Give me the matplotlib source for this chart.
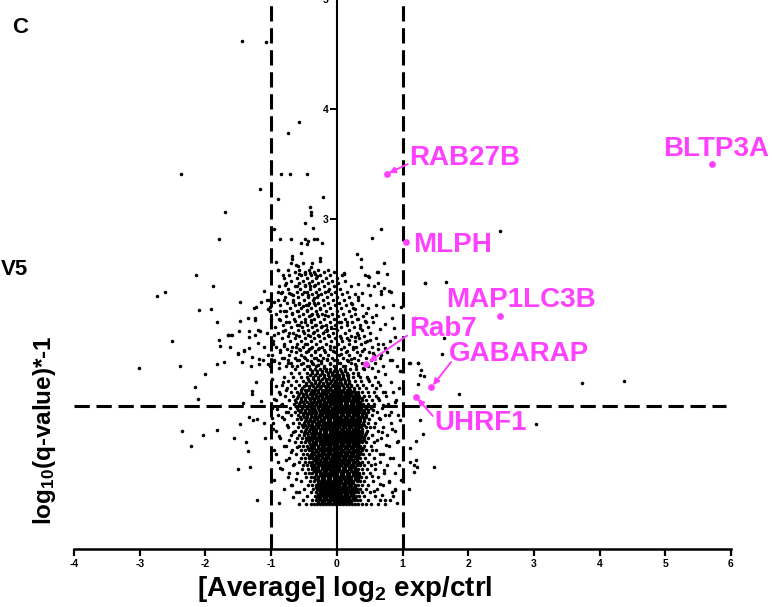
import numpy as np
import matplotlib
matplotlib.use("Agg")
import matplotlib.pyplot as plt

plt.rcParams['font.family'] = ['Liberation Sans', 'DejaVu Sans']
plt.rcParams['font.weight'] = 'bold'
plt.rcParams['axes.unicode_minus'] = False
plt.rcParams['mathtext.fontset'] = 'custom'
plt.rcParams['mathtext.rm'] = 'Liberation Sans:bold'
plt.rcParams['mathtext.it'] = 'Liberation Sans:bold'
plt.rcParams['mathtext.bf'] = 'Liberation Sans:bold'

PINK = '#ff40ff'

# --- seuils
FC_CUT = 1.0
Q_CUT = 1.3
Q_LINE_END = 5.92

# --- points isoles
sparse_x = [
    -1.45, -1.08, -0.57, -0.74, -2.37, -0.85, -0.71, -0.45, -1.17, -0.21, -0.90,
    -0.41, -0.40, -0.40, -0.49, -0.36, -0.96, -0.87, -0.69, -0.48, -0.44, -0.35, -0.30,
    -0.23, -0.55, -0.46, -0.55, -0.68, -0.68, -0.69, -0.62, -0.59, -0.52, -0.38, -0.39,
    -0.26, -0.25, -0.92, -0.89,
    0.67, 0.53, 0.31, 0.37, 0.37, 0.72, 0.61, 0.11, 0.49, 0.63, 0.68, 0.80,
    2.48, 1.34, 1.66, 3.73, 4.37, 1.86, 3.03, 1.63, 1.60, 1.11, 1.23, 1.27, 1.24, 1.19,
    1.27, 1.31, 1.21, 1.11,
    1.48, 1.22, 1.18, 1.11, 1.10, 0.89, 0.81, 0.74, 0.91, 0.98, 0.95, 1.20, 1.17,
    1.10, 1.24, 1.28, 1.33,
    -1.70, -1.79, -2.14, -1.89, -2.73, -2.61, -2.10, -1.92, -1.47, -1.83, -2.51, -1.79,
    -1.78, -1.65, -1.59, -3.01, -2.39, -2.01, -1.83, -1.72, -2.16, -2.12, -1.50, -1.42,
    -1.49, -1.33, -1.25, -1.17, -1.25, -1.26, -1.11, -1.03, -1.02, -1.29, -1.19, -1.12,
    -1.23, -1.29,
    -2.35, -2.04, -1.83, -2.22, -1.56, -1.38, -1.35, -1.50, -1.32, -1.21, -1.47, -1.34,
    -1.27, -1.22, -1.10, -0.88, -1.11, -1.43, -1.29, -1.15,
]
sparse_y = [
    4.62, 4.61, 3.88, 3.78, 3.41, 3.41, 3.41, 3.41, 3.27, 3.20, 3.18,
    3.11, 3.06, 3.04, 2.96, 2.92, 2.91, 2.82, 2.82, 2.82, 2.80, 2.82, 2.82,
    2.78, 2.78, 2.77, 2.69, 2.66, 2.64, 2.60, 2.58, 2.57, 2.60, 2.60, 2.56,
    2.65, 2.62, 2.61, 2.54,
    2.91, 2.83, 2.68, 2.64, 2.56, 2.60, 2.52, 2.51, 2.47, 2.42, 2.35, 2.35,
    2.89, 2.42, 2.43, 1.51, 1.53, 1.41, 1.14, 1.92, 1.77, 1.69, 1.69, 1.58, 1.50, 2.10,
    1.17, 1.05, 0.98, 0.92,
    0.75, 0.75, 0.70, 0.79, 0.55, 0.54, 0.45, 0.45, 0.42, 0.63, 0.76, 0.81, 0.76,
    1.69, 1.69, 1.63, 1.57,
    3.06, 2.82, 2.49, 2.39, 2.30, 2.34, 2.17, 2.18, 2.25, 2.06, 1.89, 1.90,
    1.85, 1.95, 1.95, 1.65, 1.66, 1.59, 1.68, 1.70, 1.47, 1.36, 1.77, 1.80,
    1.98, 1.93, 1.95, 1.98, 2.10, 2.19, 2.35, 2.26, 2.20, 1.75, 1.68, 1.72,
    1.52, 1.44,
    1.07, 1.04, 1.08, 0.94, 1.01, 0.97, 0.89, 0.73, 0.75, 0.45, 1.14, 1.20,
    1.17, 1.18, 1.01, 0.42, 1.15, 1.33, 1.41, 1.35,
]

# --- bords du coeur (entre les pointilles et le noyau dense)
fringe_x = [
    -0.98, -0.93, -0.87, -0.95, -0.82, -0.78, -0.91, -0.84, -0.76, -0.97, -0.88, -0.72,
    -0.81, -0.93, -0.69, -0.77, -0.86, -0.65, -0.73, -0.96, -0.62, -0.70, -0.80, -0.58,
    -0.66, -0.99, -0.85, -0.74, -0.67, -0.61,
    0.58, 0.66, 0.74, 0.83, 0.95, 0.62, 0.71, 0.88, 0.55, 0.64, 0.79, 0.96, 0.57, 0.69,
    0.84, 0.61, 0.75, 0.93, 0.53, 0.66, 0.81, 0.58, 0.72, 0.89, 0.54, 0.65, 0.80, 0.57,
    0.69, 0.84,
]
fringe_y = [
    1.55, 1.48, 1.41, 1.36, 1.52, 1.45, 1.27, 1.20, 1.13, 1.09, 1.03, 0.99,
    0.94, 0.86, 0.88, 0.81, 0.74, 0.77, 0.69, 0.63, 0.64, 0.58, 0.55, 0.52,
    0.47, 1.19, 1.31, 1.25, 1.06, 0.93,
    1.56, 1.49, 1.43, 1.52, 1.46, 1.37, 1.31, 1.34, 1.26, 1.19, 1.22, 1.17, 1.11, 1.06,
    1.09, 0.99, 0.95, 0.98, 0.90, 0.86, 0.83, 0.77, 0.72, 0.69, 0.66, 0.59, 0.61, 0.53,
    0.49, 0.52,
]

# --- nuage intermediaire lu point par point (y 1.5 - 2.55)
mid_x = [
    -0.89, -0.82, -0.58, -0.48, -0.41, -0.33, -0.30,
    -0.79, -0.60, -0.48, -0.41, -0.33, -0.14,
    -0.90, -0.85, -0.72, -0.67, -0.50, -0.44, -0.35, -0.29,
    -1.15, -1.06, -0.95, -0.81, -0.67, -0.58, -0.51, -0.44, -0.35, -0.25,
    -1.23, -1.05, -1.01, -0.87, -0.77, -0.68, -0.59, -0.46, -0.39, -0.30, -0.18,
    -1.48, -1.35, -1.25, -1.00, -0.86, -0.77, -0.64, -0.57, -0.48, -0.39, -0.33, -0.23,
    -1.66, -1.61, -1.33, -1.20, -1.06, -0.95, -0.82, -0.72, -0.62, -0.52, -0.44, -0.35,
    -0.29, -0.14,
    -1.63, -1.51, -1.42, -1.33, -1.20, -1.11, -1.05, -0.97, -0.87, -0.80, -0.70, -0.62,
    -0.56, -0.49, -0.44, -0.39, -0.33, -0.27, -0.19, -0.11, -0.06,
    -1.45, -1.30, -1.18, -1.05, -0.95, -0.88, -0.80, -0.74, -0.68, -0.60, -0.55, -0.50,
    -0.45, -0.40, -0.36, -0.32, -0.28, -0.24, -0.20, -0.15, -0.10, -0.05, 0.02, 0.10, 0.22,
    0.11, 0.43, 0.48, 0.62, 0.77, 0.33, 0.48, 0.57, 0.72, 0.83, 0.67, 0.50, 0.38, 0.33,
    0.23, 0.38, 0.59, 0.70, 0.86, 0.97, 1.34,
    0.27, 0.45, 0.53, 0.60, 0.43, 0.55, 0.32, 0.16, 0.73, 0.87, 0.65, 0.07, 0.84,
    0.06, 0.18, 0.27, 0.35, 0.33, 0.43, 0.50, 0.63, 0.73, 0.81, 0.88, 0.93, 0.25, 0.15,
    0.07, 0.38, 0.55, 0.68, 0.81, 0.91, 0.96, 0.17, 0.27, 0.40, 0.53, 0.63, 0.73, 0.32,
    0.48, 0.63, 0.17, 0.07,
]
mid_y = [
    2.54, 2.49, 2.50, 2.50, 2.51, 2.50, 2.48,
    2.40, 2.39, 2.40, 2.39, 2.40, 2.35,
    2.34, 2.33, 2.33, 2.31, 2.34, 2.31, 2.28, 2.31,
    2.25, 2.26, 2.25, 2.26, 2.25, 2.23, 2.21, 2.22, 2.24, 2.18,
    2.20, 2.18, 2.16, 2.16, 2.16, 2.15, 2.16, 2.17, 2.13, 2.14, 2.13,
    2.07, 2.10, 2.08, 2.09, 2.08, 2.06, 2.07, 2.04, 2.06, 2.08, 2.04, 2.03,
    1.95, 1.95, 1.98, 1.99, 1.96, 1.95, 1.98, 1.96, 1.95, 1.98, 1.95, 1.97,
    1.95, 1.95,
    1.84, 1.78, 1.81, 1.83, 1.87, 1.84, 1.76, 1.86, 1.81, 1.85, 1.80, 1.84,
    1.81, 1.86, 1.80, 1.83, 1.80, 1.83, 1.81, 1.85, 1.80,
    1.70, 1.66, 1.73, 1.68, 1.71, 1.65, 1.74, 1.69, 1.66, 1.72, 1.68, 1.75,
    1.66, 1.71, 1.68, 1.74, 1.67, 1.71, 1.65, 1.73, 1.68, 1.72, 1.69, 1.66, 1.73,
    2.50, 2.49, 2.48, 2.52, 2.50, 2.41, 2.40, 2.39, 2.37, 2.34, 2.32, 2.31, 2.33, 2.29,
    2.23, 2.22, 2.22, 2.20, 2.22, 2.20, 2.42,
    2.18, 2.15, 2.11, 2.13, 2.07, 2.06, 2.09, 2.06, 2.05, 2.01, 2.00, 2.06, 2.10,
    1.92, 1.90, 1.93, 2.01, 1.95, 1.88, 1.90, 1.86, 1.83, 1.89, 1.93, 1.83, 1.84, 1.80,
    1.77, 1.80, 1.78, 1.76, 1.72, 1.66, 1.62, 1.71, 1.68, 1.65, 1.65, 1.62, 1.59, 1.58,
    1.55, 1.52, 1.58, 1.55,
]

# --- nuage intermediaire, rangees fines (y 1.665 - 2.54)
band_y = [1.665, 1.69, 1.715, 1.74, 1.765, 1.79, 1.815, 1.84, 1.865, 1.89, 1.915, 1.94,
          1.965, 1.99, 2.015, 2.04, 2.065, 2.09, 2.115, 2.14, 2.165, 2.19, 2.215, 2.24,
          2.265, 2.29, 2.315, 2.34, 2.365, 2.39, 2.415, 2.44, 2.465, 2.49, 2.515, 2.54]
band_x = [
    [-1.02, -0.78, -0.61, -0.43, -0.31, -0.19, -0.04, 0.12, 0.29, 0.47, 0.71],
    [-0.88, -0.69, -0.52, -0.37, -0.24, -0.11, 0.05, 0.21, 0.38, 0.58],
    [-0.95, -0.74, -0.57, -0.46, -0.28, -0.15, 0.01, 0.16, 0.33, 0.52, 0.84],
    [-0.83, -0.64, -0.49, -0.34, -0.21, -0.07, 0.09, 0.26, 0.44, 0.66],
    [-0.99, -0.72, -0.55, -0.40, -0.26, -0.13, 0.03, 0.19, 0.36, 0.57],
    [-0.86, -0.62, -0.47, -0.33, -0.18, -0.02, 0.14, 0.31, 0.49, 0.77],
    [-0.76, -0.58, -0.42, -0.29, -0.10, 0.07, 0.24, 0.41, 0.62],
    [-0.92, -0.68, -0.51, -0.37, -0.22, -0.05, 0.11, 0.29, 0.53],
    [-0.81, -0.60, -0.45, -0.31, -0.16, 0.02, 0.19, 0.37, 0.70],
    [-0.97, -0.71, -0.54, -0.39, -0.25, -0.09, 0.08, 0.27, 0.46],
    [-0.84, -0.63, -0.48, -0.34, -0.19, -0.03, 0.15, 0.34, 0.59],
    [-0.75, -0.57, -0.41, -0.27, -0.12, 0.05, 0.22, 0.42],
    [-0.90, -0.66, -0.50, -0.36, -0.21, -0.06, 0.12, 0.30, 0.51],
    [-0.79, -0.59, -0.44, -0.30, -0.15, 0.01, 0.19, 0.39],
    [-0.94, -0.69, -0.53, -0.38, -0.24, -0.09, 0.07, 0.26, 0.48],
    [-0.82, -0.61, -0.46, -0.32, -0.17, -0.02, 0.16, 0.35],
    [-0.73, -0.55, -0.40, -0.26, -0.11, 0.04, 0.23, 0.44],
    [-0.88, -0.65, -0.49, -0.35, -0.20, -0.05, 0.13, 0.31],
    [-0.77, -0.58, -0.43, -0.29, -0.14, 0.02, 0.21, 0.40],
    [-0.93, -0.68, -0.52, -0.37, -0.23, -0.08, 0.10, 0.28],
    [-0.80, -0.60, -0.45, -0.31, -0.16, 0.00, 0.18],
    [-0.71, -0.54, -0.39, -0.25, -0.10, 0.06, 0.25, 0.47],
    [-0.86, -0.63, -0.47, -0.33, -0.19, -0.03, 0.14],
    [-0.76, -0.57, -0.42, -0.28, -0.13, 0.03, 0.22],
    [-0.90, -0.66, -0.50, -0.36, -0.21, -0.06, 0.11, 0.33],
    [-0.79, -0.59, -0.44, -0.30, -0.15, 0.01, 0.18],
    [-0.70, -0.53, -0.38, -0.24, -0.09, 0.08, 0.27],
    [-0.84, -0.61, -0.46, -0.32, -0.18, -0.02, 0.15],
    [-0.74, -0.56, -0.41, -0.27, -0.12, 0.05],
    [-0.88, -0.64, -0.49, -0.35, -0.20, -0.04, 0.21],
    [-0.77, -0.58, -0.43, -0.29, -0.14, 0.02],
    [-0.69, -0.52, -0.37, -0.23, -0.08, 0.12],
    [-0.81, -0.60, -0.45, -0.31, -0.16, 0.00],
    [-0.72, -0.55, -0.40, -0.26, -0.11, 0.08],
    [-0.63, -0.48, -0.34, -0.19, -0.05],
    [-0.75, -0.57, -0.42, -0.28, -0.13],
]

# --- coeur dense : une rangee par niveau de -log10(q)
core_y = [0.41, 0.445, 0.48, 0.515, 0.55, 0.585, 0.62, 0.655, 0.69, 0.725, 0.76, 0.795,
          0.83, 0.865, 0.90, 0.935, 0.97, 1.005, 1.04, 1.075, 1.11, 1.145, 1.18, 1.215,
          1.25, 1.285, 1.32, 1.355, 1.39, 1.425, 1.46, 1.495, 1.53, 1.565, 1.60, 1.635]
core_x = [
    [-0.58, -0.47, -0.40, -0.35, -0.30, -0.26, -0.21, -0.17, -0.12, -0.08, -0.03, 0.01, 0.05, 0.10, 0.14, 0.19, 0.23, 0.28, 0.33, 0.38, 0.44, 0.52, 0.63, 0.74],
    [-0.52, -0.37, -0.32, -0.27, -0.22, -0.18, -0.13, -0.09, -0.04, 0.00, 0.04, 0.08, 0.13, 0.17, 0.22, 0.26, 0.31, 0.36, 0.47, 0.66],
    [-0.45, -0.33, -0.28, -0.24, -0.19, -0.15, -0.10, -0.06, -0.02, 0.03, 0.07, 0.11, 0.16, 0.20, 0.25, 0.29, 0.34, 0.41, 0.58, 0.86],
    [-0.62, -0.40, -0.31, -0.26, -0.21, -0.17, -0.12, -0.08, -0.03, 0.01, 0.05, 0.10, 0.14, 0.18, 0.23, 0.27, 0.32, 0.39, 0.50],
    [-0.50, -0.36, -0.30, -0.25, -0.20, -0.15, -0.11, -0.06, -0.02, 0.02, 0.07, 0.11, 0.16, 0.21, 0.25, 0.30, 0.36, 0.45, 0.61, 0.89],
    [-0.68, -0.44, -0.37, -0.32, -0.27, -0.22, -0.18, -0.13, -0.09, -0.04, 0.00, 0.04, 0.09, 0.13, 0.18, 0.22, 0.27, 0.32, 0.38, 0.48, 0.70],
    [-0.55, -0.41, -0.35, -0.29, -0.24, -0.20, -0.15, -0.11, -0.06, -0.02, 0.03, 0.07, 0.12, 0.16, 0.20, 0.25, 0.30, 0.35, 0.42, 0.55, 0.80],
    [-0.74, -0.47, -0.40, -0.34, -0.28, -0.23, -0.19, -0.14, -0.10, -0.05, -0.01, 0.04, 0.08, 0.13, 0.17, 0.22, 0.27, 0.32, 0.37, 0.45, 0.63],
    [-0.60, -0.49, -0.42, -0.37, -0.31, -0.26, -0.21, -0.17, -0.12, -0.08, -0.03, 0.01, 0.06, 0.10, 0.15, 0.19, 0.24, 0.29, 0.34, 0.40, 0.51, 0.72],
    [-0.83, -0.53, -0.44, -0.38, -0.33, -0.28, -0.23, -0.18, -0.14, -0.09, -0.05, 0.00, 0.04, 0.09, 0.13, 0.18, 0.22, 0.27, 0.32, 0.38, 0.46, 0.58],
    [-0.66, -0.51, -0.45, -0.40, -0.35, -0.29, -0.24, -0.20, -0.15, -0.11, -0.06, -0.02, 0.03, 0.07, 0.12, 0.16, 0.21, 0.25, 0.30, 0.35, 0.41, 0.52, 0.77],
    [-0.90, -0.58, -0.48, -0.42, -0.37, -0.31, -0.26, -0.21, -0.17, -0.12, -0.08, -0.03, 0.01, 0.06, 0.10, 0.15, 0.19, 0.24, 0.28, 0.33, 0.39, 0.47, 0.66],
    [-0.72, -0.55, -0.49, -0.43, -0.38, -0.33, -0.28, -0.23, -0.18, -0.14, -0.09, -0.05, 0.00, 0.04, 0.09, 0.13, 0.18, 0.22, 0.27, 0.31, 0.36, 0.43, 0.56, 0.85],
    [-0.62, -0.51, -0.45, -0.40, -0.35, -0.29, -0.24, -0.20, -0.15, -0.11, -0.06, -0.02, 0.03, 0.07, 0.12, 0.16, 0.21, 0.25, 0.30, 0.35, 0.40, 0.49, 0.71],
    [-0.95, -0.68, -0.55, -0.48, -0.42, -0.37, -0.31, -0.26, -0.21, -0.17, -0.12, -0.08, -0.03, 0.01, 0.06, 0.10, 0.15, 0.19, 0.24, 0.28, 0.33, 0.38, 0.44, 0.60],
    [-0.78, -0.57, -0.51, -0.45, -0.39, -0.34, -0.28, -0.23, -0.19, -0.14, -0.10, -0.05, -0.01, 0.04, 0.08, 0.13, 0.17, 0.22, 0.26, 0.31, 0.36, 0.42, 0.52, 0.79],
    [-0.64, -0.54, -0.48, -0.42, -0.36, -0.31, -0.26, -0.21, -0.16, -0.12, -0.07, -0.03, 0.02, 0.06, 0.11, 0.15, 0.20, 0.24, 0.29, 0.34, 0.39, 0.45, 0.57, 0.92],
    [-0.86, -0.60, -0.53, -0.47, -0.41, -0.35, -0.30, -0.25, -0.20, -0.15, -0.11, -0.06, -0.02, 0.03, 0.07, 0.12, 0.16, 0.21, 0.25, 0.30, 0.35, 0.41, 0.48, 0.67],
    [-0.70, -0.57, -0.50, -0.44, -0.38, -0.33, -0.27, -0.22, -0.18, -0.13, -0.09, -0.04, 0.00, 0.05, 0.09, 0.14, 0.18, 0.23, 0.27, 0.32, 0.37, 0.43, 0.54, 0.76],
    [-0.92, -0.63, -0.55, -0.48, -0.42, -0.36, -0.31, -0.25, -0.20, -0.16, -0.11, -0.07, -0.02, 0.02, 0.07, 0.11, 0.16, 0.20, 0.25, 0.29, 0.34, 0.39, 0.46, 0.62, 0.88],
    [-0.75, -0.59, -0.52, -0.46, -0.40, -0.34, -0.29, -0.23, -0.18, -0.14, -0.09, -0.05, 0.00, 0.04, 0.09, 0.13, 0.18, 0.22, 0.27, 0.32, 0.37, 0.44, 0.51, 0.71],
    [-0.97, -0.66, -0.57, -0.50, -0.44, -0.38, -0.32, -0.27, -0.21, -0.16, -0.12, -0.07, -0.03, 0.02, 0.06, 0.11, 0.15, 0.20, 0.24, 0.29, 0.34, 0.40, 0.47, 0.58, 0.83],
    [-0.81, -0.61, -0.54, -0.47, -0.41, -0.35, -0.30, -0.24, -0.19, -0.14, -0.10, -0.05, -0.01, 0.04, 0.08, 0.13, 0.17, 0.22, 0.26, 0.31, 0.36, 0.42, 0.49, 0.66],
    [-0.89, -0.69, -0.59, -0.52, -0.45, -0.39, -0.33, -0.27, -0.22, -0.17, -0.12, -0.08, -0.03, 0.01, 0.06, 0.10, 0.15, 0.19, 0.24, 0.28, 0.33, 0.38, 0.45, 0.54, 0.74, 0.93],
    [-0.77, -0.63, -0.56, -0.49, -0.42, -0.36, -0.31, -0.25, -0.20, -0.15, -0.10, -0.06, -0.01, 0.03, 0.08, 0.12, 0.17, 0.21, 0.26, 0.30, 0.35, 0.41, 0.48, 0.61, 0.82],
    [-0.99, -0.71, -0.61, -0.53, -0.46, -0.40, -0.34, -0.28, -0.23, -0.18, -0.13, -0.08, -0.04, 0.01, 0.05, 0.10, 0.14, 0.19, 0.23, 0.28, 0.32, 0.37, 0.44, 0.52, 0.69],
    [-0.84, -0.65, -0.57, -0.50, -0.43, -0.37, -0.31, -0.26, -0.21, -0.16, -0.11, -0.06, -0.02, 0.03, 0.07, 0.12, 0.16, 0.21, 0.25, 0.30, 0.35, 0.40, 0.47, 0.57, 0.78],
    [-0.93, -0.73, -0.63, -0.55, -0.48, -0.41, -0.35, -0.29, -0.24, -0.19, -0.14, -0.09, -0.04, 0.00, 0.05, 0.09, 0.14, 0.18, 0.23, 0.27, 0.32, 0.38, 0.45, 0.53, 0.64, 0.90],
    [-0.79, -0.67, -0.59, -0.51, -0.45, -0.38, -0.32, -0.27, -0.22, -0.17, -0.12, -0.07, -0.03, 0.02, 0.06, 0.11, 0.15, 0.20, 0.25, 0.29, 0.34, 0.41, 0.49, 0.60, 0.75],
    [-0.88, -0.70, -0.61, -0.54, -0.47, -0.40, -0.34, -0.28, -0.23, -0.18, -0.13, -0.08, -0.04, 0.01, 0.05, 0.10, 0.14, 0.19, 0.23, 0.28, 0.33, 0.39, 0.47, 0.56, 0.70, 0.85],
    [-0.76, -0.64, -0.53, -0.42, -0.33, -0.25, -0.17, -0.10, -0.03, 0.04, 0.11, 0.18, 0.26, 0.34, 0.45, 0.60],
    [-0.83, -0.69, -0.58, -0.47, -0.38, -0.29, -0.21, -0.14, -0.06, 0.01, 0.08, 0.15, 0.22, 0.31, 0.40, 0.53],
    [-0.74, -0.62, -0.51, -0.42, -0.33, -0.25, -0.17, -0.09, -0.02, 0.05, 0.12, 0.19, 0.28, 0.37, 0.49],
    [-0.80, -0.66, -0.55, -0.45, -0.36, -0.28, -0.20, -0.12, -0.05, 0.03, 0.10, 0.17, 0.25, 0.35, 0.46],
    [-0.70, -0.57, -0.46, -0.38, -0.30, -0.22, -0.14, -0.07, 0.00, 0.08, 0.15, 0.24, 0.33],
    [-0.63, -0.50, -0.41, -0.33, -0.25, -0.17, -0.10, -0.03, 0.05, 0.12, 0.20, 0.29, 0.41],
]

# --- coeur dense, rangees intercalees (centre le plus noir)
core2_y = [0.4275, 0.4625, 0.4975, 0.5325, 0.5675, 0.6025, 0.6375, 0.6725, 0.7075, 0.7425,
           0.7775, 0.8125, 0.8475, 0.8825, 0.9175, 0.9525, 0.9875, 1.0225, 1.0575, 1.0925,
           1.1275, 1.1625, 1.1975, 1.2325, 1.2675, 1.3025, 1.3375, 1.3725, 1.4075, 1.4425,
           1.4775, 1.5125, 1.5475, 1.5825, 1.6175]
core2_x = [
    [-0.28, -0.23, -0.19, -0.14, -0.10, -0.05, -0.01, 0.03, 0.08, 0.12, 0.17, 0.21],
    [-0.30, -0.25, -0.20, -0.16, -0.11, -0.07, -0.02, 0.02, 0.06, 0.11, 0.15, 0.19, 0.24, 0.28],
    [-0.29, -0.24, -0.20, -0.15, -0.11, -0.06, -0.02, 0.03, 0.07, 0.12, 0.16, 0.21, 0.25],
    [-0.27, -0.22, -0.18, -0.13, -0.09, -0.04, 0.00, 0.04, 0.09, 0.13, 0.18, 0.22, 0.27],
    [-0.32, -0.27, -0.23, -0.18, -0.13, -0.09, -0.04, 0.00, 0.05, 0.09, 0.14, 0.18, 0.23, 0.28],
    [-0.29, -0.24, -0.20, -0.15, -0.11, -0.06, -0.02, 0.02, 0.07, 0.11, 0.16, 0.20, 0.25],
    [-0.33, -0.28, -0.23, -0.19, -0.14, -0.10, -0.05, -0.01, 0.04, 0.08, 0.13, 0.17, 0.22, 0.27, 0.32],
    [-0.31, -0.26, -0.21, -0.17, -0.12, -0.08, -0.03, 0.01, 0.06, 0.10, 0.15, 0.19, 0.24, 0.29, 0.34],
    [-0.35, -0.30, -0.25, -0.20, -0.16, -0.11, -0.07, -0.02, 0.02, 0.07, 0.11, 0.16, 0.21, 0.26, 0.31],
    [-0.38, -0.33, -0.28, -0.23, -0.18, -0.14, -0.09, -0.05, 0.00, 0.04, 0.09, 0.13, 0.18, 0.23, 0.28],
    [-0.37, -0.32, -0.27, -0.22, -0.17, -0.13, -0.08, -0.04, 0.01, 0.05, 0.10, 0.14, 0.19, 0.24, 0.29, 0.35],
    [-0.35, -0.30, -0.25, -0.20, -0.16, -0.11, -0.07, -0.02, 0.02, 0.07, 0.11, 0.16, 0.20, 0.25, 0.30],
    [-0.42, -0.37, -0.32, -0.27, -0.22, -0.17, -0.13, -0.08, -0.04, 0.01, 0.05, 0.10, 0.14, 0.19, 0.23, 0.28, 0.33],
    [-0.38, -0.33, -0.28, -0.23, -0.19, -0.14, -0.10, -0.05, -0.01, 0.04, 0.08, 0.13, 0.17, 0.22, 0.26, 0.31, 0.36],
    [-0.44, -0.39, -0.34, -0.29, -0.24, -0.20, -0.15, -0.11, -0.06, -0.02, 0.03, 0.07, 0.12, 0.16, 0.21, 0.25, 0.30, 0.35, 0.40],
    [-0.41, -0.36, -0.31, -0.26, -0.21, -0.17, -0.12, -0.08, -0.03, 0.01, 0.06, 0.10, 0.15, 0.19, 0.24, 0.28, 0.33],
    [-0.47, -0.42, -0.37, -0.32, -0.27, -0.22, -0.18, -0.13, -0.09, -0.04, 0.00, 0.05, 0.09, 0.14, 0.18, 0.23, 0.27, 0.32, 0.37, 0.42],
    [-0.44, -0.39, -0.34, -0.29, -0.24, -0.19, -0.15, -0.10, -0.06, -0.01, 0.03, 0.08, 0.12, 0.17, 0.21, 0.26, 0.30, 0.35, 0.40],
    [-0.50, -0.45, -0.40, -0.35, -0.30, -0.25, -0.20, -0.16, -0.11, -0.07, -0.02, 0.02, 0.07, 0.11, 0.16, 0.20, 0.25, 0.29, 0.34, 0.39, 0.44],
    [-0.47, -0.41, -0.36, -0.31, -0.26, -0.21, -0.17, -0.12, -0.08, -0.03, 0.01, 0.06, 0.10, 0.15, 0.19, 0.24, 0.28, 0.33, 0.38],
    [-0.53, -0.48, -0.43, -0.37, -0.32, -0.27, -0.22, -0.18, -0.13, -0.09, -0.04, 0.00, 0.05, 0.09, 0.14, 0.18, 0.23, 0.27, 0.32, 0.37, 0.42],
    [-0.49, -0.44, -0.39, -0.34, -0.29, -0.24, -0.19, -0.14, -0.10, -0.05, -0.01, 0.04, 0.08, 0.13, 0.17, 0.22, 0.26, 0.31, 0.36, 0.41],
    [-0.56, -0.50, -0.45, -0.40, -0.35, -0.30, -0.25, -0.20, -0.15, -0.11, -0.06, -0.02, 0.03, 0.07, 0.12, 0.16, 0.21, 0.25, 0.30, 0.35, 0.40, 0.45],
    [-0.52, -0.47, -0.42, -0.37, -0.31, -0.26, -0.21, -0.17, -0.12, -0.08, -0.03, 0.01, 0.06, 0.10, 0.15, 0.19, 0.24, 0.28, 0.33, 0.38, 0.43],
    [-0.59, -0.54, -0.48, -0.43, -0.38, -0.33, -0.27, -0.22, -0.18, -0.13, -0.09, -0.04, 0.00, 0.05, 0.09, 0.14, 0.18, 0.23, 0.27, 0.32, 0.37, 0.42, 0.47],
    [-0.55, -0.50, -0.44, -0.39, -0.34, -0.29, -0.23, -0.19, -0.14, -0.10, -0.05, -0.01, 0.04, 0.08, 0.13, 0.17, 0.22, 0.26, 0.31, 0.36, 0.42, 0.47],
    [-0.62, -0.56, -0.51, -0.45, -0.40, -0.35, -0.30, -0.25, -0.20, -0.15, -0.11, -0.06, -0.02, 0.03, 0.07, 0.12, 0.16, 0.21, 0.26, 0.31, 0.36],
    [-0.60, -0.54, -0.49, -0.43, -0.38, -0.33, -0.28, -0.23, -0.18, -0.13, -0.09, -0.04, 0.00, 0.05, 0.09, 0.14, 0.19, 0.24, 0.29, 0.34, 0.39],
    [-0.58, -0.52, -0.47, -0.41, -0.36, -0.31, -0.26, -0.21, -0.16, -0.11, -0.07, -0.02, 0.02, 0.07, 0.12, 0.17, 0.22, 0.27, 0.32],
    [-0.55, -0.49, -0.44, -0.38, -0.33, -0.28, -0.23, -0.18, -0.13, -0.09, -0.04, 0.01, 0.05, 0.10, 0.15, 0.20, 0.26],
    [-0.50, -0.43, -0.36, -0.30, -0.24, -0.18, -0.13, -0.07, -0.02, 0.04, 0.09, 0.15, 0.21],
    [-0.47, -0.39, -0.33, -0.27, -0.21, -0.15, -0.10, -0.04, 0.02, 0.07, 0.13, 0.19],
    [-0.44, -0.36, -0.29, -0.23, -0.17, -0.12, -0.06, 0.00, 0.05, 0.11, 0.17],
    [-0.41, -0.33, -0.26, -0.20, -0.14, -0.08, -0.03, 0.03, 0.09, 0.15],
    [-0.37, -0.30, -0.23, -0.17, -0.11, -0.05, 0.01, 0.07, 0.13],
]

# --- genes mis en evidence
hit_names = ['RAB27B', 'BLTP3A', 'MLPH', 'MAP1LC3B', 'Rab7', 'GABARAP', 'UHRF1']
hit_x = [0.77, 5.71, 1.05, 2.49, 0.44, 1.44, 1.21]
hit_y = [3.41, 3.50, 2.79, 2.12, 1.68, 1.47, 1.38]
lab_x = [1.10, 4.96, 1.16, 1.66, 1.10, 1.70, 1.49]
lab_y = [3.49, 3.57, 2.70, 2.20, 1.94, 1.71, 1.08]
# depart de la fleche (None = pas de fleche)
arr_x = [1.08, None, None, None, 1.07, 1.74, 1.46]
arr_y = [3.50, None, None, None, 1.94, 1.70, 1.21]

xs = list(sparse_x) + list(fringe_x) + list(mid_x)
ys = list(sparse_y) + list(fringe_y) + list(mid_y)
rows = list(zip(core_y, core_x)) + list(zip(core2_y, core2_x)) + list(zip(band_y, band_x))
for yv, row in rows:
    xs += row
    ys += [yv] * len(row)

fig = plt.figure(figsize=(7.72, 6.07), dpi=100)
ax = fig.add_axes([74 / 772, 58 / 607, 657 / 772, 550 / 607])
ax.set_xlim(-4, 6)
ax.set_ylim(0, 5)

ax.scatter(xs, ys, s=6.5, c='black', linewidths=0, zorder=3)

# seuils
ax.axvline(-FC_CUT, color='black', lw=2.2, dashes=(5, 2.2), zorder=2)
ax.axvline(FC_CUT, color='black', lw=2.2, dashes=(5, 2.2), zorder=2)
ax.plot([-4, Q_LINE_END], [Q_CUT, Q_CUT], color='black', lw=2.2, dashes=(5, 2.2),
        zorder=2, clip_on=False)

ax.scatter(hit_x, hit_y, s=24, c=PINK, linewidths=0, zorder=4)
for name, hx, hy, lx, ly, ax0, ay0 in zip(hit_names, hit_x, hit_y, lab_x, lab_y, arr_x, arr_y):
    ax.text(lx, ly, name, color=PINK, fontsize=20, fontweight='bold',
            ha='left', va='baseline', zorder=5)
    if ax0 is not None:
        ax.annotate('', xy=(hx + (ax0 - hx) * 0.08, hy + (ay0 - hy) * 0.08),
                    xytext=(ax0, ay0),
                    arrowprops=dict(arrowstyle='-|>', color=PINK, lw=1.4,
                                    mutation_scale=9, shrinkA=0, shrinkB=0),
                    zorder=5)

for s in ('top', 'right'):
    ax.spines[s].set_visible(False)
ax.spines['left'].set_position(('data', 0))
ax.spines['left'].set_linewidth(1.5)
ax.spines['bottom'].set_linewidth(1.8)
ax.set_xticks(range(-4, 7))
ax.set_yticks([1, 2, 3, 4, 5])
ax.tick_params(axis='x', direction='out', length=5, width=1.6, labelsize=7.5, pad=2)
ax.tick_params(axis='y', direction='out', length=5, width=1.4, labelsize=7.5, pad=1)
ax.patch.set_visible(False)

fig.text(345 / 772, 1 - 596 / 607, '[Average] log$_{2}$ exp/ctrl', fontsize=20,
         fontweight='bold', ha='center', va='baseline')
fig.text(45 / 772, 1 - 430 / 607, 'log$_{10}$(q-value)*-1', fontsize=17.5,
         fontweight='bold', rotation=90, ha='center', va='center')
fig.text(12 / 772, 1 - 33 / 607, 'C', fontsize=16, fontweight='bold', va='baseline')
fig.text(28 / 772, 1 - 275 / 607, 'V5', fontsize=16, fontweight='bold',
         ha='right', va='baseline')

fig.savefig('out.png', dpi=100)
